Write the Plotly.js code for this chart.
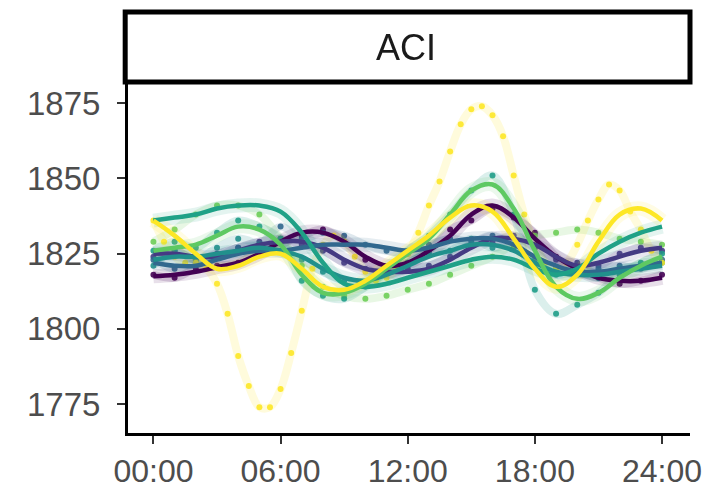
<!DOCTYPE html>
<html>
<head>
<meta charset="utf-8">
<script src="https://cdn.plot.ly/plotly-3.0.1.min.js"></script>
<style>html,body{margin:0;padding:0;background:#fff;}#chart{width:728px;height:494px;}</style>
</head>
<body>
<div id="chart"></div>
<script>
// ---- data ----
const panelTitle = "ACI";
const tickHours = [0, 6, 12, 18, 24];
const tickLabels = ["00:00", "06:00", "12:00", "18:00", "24:00"];
const yTicks = [1775, 1800, 1825, 1850, 1875];

const hours = [0,1,2,3,4,5,6,7,8,9,10,11,12,13,14,15,16,17,18,19,20,21,22,23,24];
const halfHours = [0,0.5,1,1.5,2,2.5,3,3.5,4,4.5,5,5.5,6,6.5,7,7.5,8,8.5,9,9.5,10,10.5,11,11.5,12,12.5,13,13.5,14,14.5,15,15.5,16,16.5,17,17.5,18,18.5,19,19.5,20,20.5,21,21.5,22,22.5,23,23.5,24];

const seriesNames = ["s1","s2","s3","s4","s5","s6","s7"];
const lineColors = ["#440154","#443a83","#31688e","#21908c","#1fa187","#5ec962","#fde725"];
const dotColors  = ["#440154","#443a83","#31688e","#21908c","#6ece58","#1f9e89","#fde725"];

// fitted (smooth) curves, hourly
const smooth1 = [1817.5,1818,1819,1820.5,1822,1825,1829,1832,1832,1829,1824,1821,1822,1826,1831,1838,1841,1837,1830,1824,1820,1817,1816,1816,1817];
const smooth2 = [1825,1825,1824,1824,1826,1828,1829,1829,1827,1823,1820,1819,1819,1820,1823,1827,1830,1830,1828,1824,1821,1822,1824,1826,1827];
const smooth3 = [1822,1821,1821,1823,1825,1826,1826,1827,1828,1828,1828,1827,1826,1827,1829,1830,1830,1828,1824,1821,1819,1819,1820,1821,1822];
const smooth4 = [1823,1824,1824,1825,1826,1827,1826,1824,1820,1817,1816,1818,1821,1824,1826,1828,1828,1826,1822,1819,1818,1818,1819,1820,1821];
const smooth5 = [1836,1837,1838,1840,1841,1841,1839,1832,1822,1815,1814,1815,1817,1819,1821,1823,1824,1823,1820,1818,1820,1825,1829,1832,1834];
const smooth6 = [1826,1827,1828,1831,1834,1833,1828,1818,1812,1812,1815,1820,1825,1830,1838,1846,1848,1840,1826,1814,1810,1812,1817,1821,1824];
const smooth7 = [1836,1831,1825,1820,1821,1824,1825,1820,1814,1813,1816,1821,1826,1831,1837,1841,1839,1830,1820,1814,1818,1829,1838,1840,1836];

// observed points
const raw1 = [1818,1817,1820,1821,1822,1826,1829,1831,1833,1829,1823,1819,1822,1826,1833,1836,1840,1837,1832,1824,1819,1817,1815,1816,1818];
const raw2 = [1824,1826,1823,1825,1827,1829,1830,1828,1826,1822,1820,1818,1820,1821,1824,1828,1829,1831,1827,1823,1822,1821,1825,1827,1826];
const raw3 = [1823,1820,1822,1824,1827,1828,1834,1830,1832,1831,1828,1826,1825,1828,1830,1829,1831,1827,1823,1820,1818,1820,1821,1820,1823];
const raw4 = [1821,1826,1823,1827,1830,1828,1826,1823,1819,1816,1815,1819,1822,1825,1826,1830,1827,1828,1821,1818,1819,1817,1820,1821,1822];
const raw5 = [1829,1833,1838,1841,1841,1838,1830,1821,1814,1811,1810,1811,1813,1815,1818,1821,1824,1828,1831,1832,1833,1832,1830,1829,1828];
const raw6 = [1826,1829,1827,1832,1836,1834,1830,1816,1811,1810,1814,1819,1826,1831,1838,1846,1851,1838,1813,1805,1808,1812,1818,1822,1825];
const raw7 = [1836,1829,1824,1822,1822,1820,1815,1805,1791,1781,1774,1774,1780,1792,1806,1820,1828,1831,1829,1824,1819,1816,1817,1820,1825,1832,1841,1849,1859,1868,1873,1874,1871,1864,1851,1838,1828,1822,1820,1822,1828,1836,1843,1848,1846,1839,1833,1826,1822];

const smoothAll = [smooth1,smooth2,smooth3,smooth4,smooth5,smooth6,smooth7];
const rawAll = [raw1,raw2,raw3,raw4,raw5,raw6,raw7];
const rawX = [hours,hours,hours,hours,hours,hours,halfHours];

// ---- traces ----
const traces = [];
// observed: faint band + dots
rawAll.forEach((r, i) => {
  traces.push({x: rawX[i], y: r, mode: "lines", type: "scatter",
    line: {color: dotColors[i], width: 8, shape: "spline", smoothing: 1},
    opacity: 0.16, hoverinfo: "skip", showlegend: false});
  traces.push({x: rawX[i], y: r, mode: "markers", type: "scatter",
    marker: {color: dotColors[i], size: 6},
    opacity: 0.9, hoverinfo: "skip", showlegend: false});
});
// fitted: ribbon-like halo + thick line
smoothAll.forEach((s, i) => {
  traces.push({x: hours, y: s, mode: "lines", type: "scatter",
    line: {color: lineColors[i], width: 14, shape: "spline", smoothing: 1.1},
    opacity: 0.12, hoverinfo: "skip", showlegend: false});
});
smoothAll.forEach((s, i) => {
  traces.push({x: hours, y: s, mode: "lines", type: "scatter", name: seriesNames[i],
    line: {color: lineColors[i], width: 4.5, shape: "spline", smoothing: 1.1},
    hoverinfo: "skip", showlegend: false});
});

const yFont = {family: "Liberation Sans, Arial, sans-serif", size: 33, color: "#4d4d4d"};
const xFont = {family: "Liberation Sans, Arial, sans-serif", size: 32, color: "#4d4d4d"};

const layout = {
  width: 728, height: 494,
  margin: {l: 128, r: 38, t: 84, b: 61, pad: 0},
  paper_bgcolor: "#ffffff", plot_bgcolor: "#ffffff",
  showlegend: false,
  xaxis: {
    range: [-1.2, 25.32], tickvals: tickHours, ticktext: tickLabels,
    showgrid: false, zeroline: false, showline: true, linecolor: "#000", linewidth: 3,
    ticks: "outside", ticklen: 8, tickwidth: 2, tickcolor: "#333",
    ticklabelstandoff: 0,
    tickfont: xFont
  },
  yaxis: {
    range: [1765.4, 1881.4], tickvals: yTicks, ticktext: yTicks.map(String),
    showgrid: false, zeroline: false, showline: true, linecolor: "#000", linewidth: 3,
    ticks: "outside", ticklen: 8, tickwidth: 2, tickcolor: "#333",
    ticklabelstandoff: 10,
    tickfont: yFont
  },
  shapes: [{
    type: "rect", xref: "paper", yref: "paper",
    x0: -0.005, x1: 1.0, y0: 1.006, y1: 1.206,
    line: {color: "#000", width: 5}, fillcolor: "#ffffff"
  }],
  annotations: [{
    xref: "paper", yref: "paper", x: 0.495, y: 1.106, xanchor: "center", yanchor: "middle",
    text: panelTitle, showarrow: false,
    font: {family: "Liberation Sans, Arial, sans-serif", size: 36, color: "#1a1a1a"}
  }]
};

Plotly.newPlot("chart", traces, layout, {staticPlot: true, displayModeBar: false});
</script>
</body>
</html>
